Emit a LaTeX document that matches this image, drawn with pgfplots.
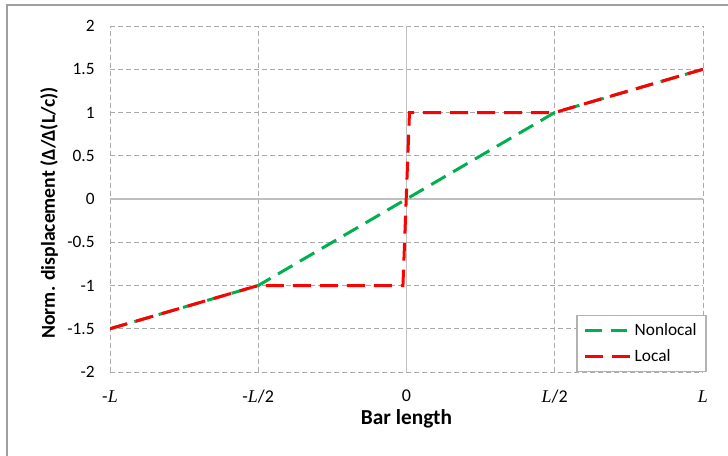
\documentclass[border=0pt]{standalone}
\usepackage{fontspec}
\setmainfont{Carlito}
\newfontfamily\serifit{Liberation Serif}
\usepackage{pgfplots}
\pgfplotsset{compat=1.18}
\definecolor{exgreen}{RGB}{0,176,80}
\definecolor{exred}{RGB}{255,0,0}
\definecolor{gridgray}{RGB}{170,170,170}
\newcommand{\Li}{{\serifit\itshape L}}
\begin{document}
\begin{tikzpicture}[x=0.75pt,y=-0.75pt]
\useasboundingbox (0,0) rectangle (728,456);
\draw[gray!75, line width=1.2pt] (7,470) -- (7,5) -- (740,5);
\begin{axis}[
  at={(82.5pt,-279pt)}, anchor=south west,
  scale only axis, width=444.75pt, height=259.5pt,
  xmin=-1, xmax=1, ymin=-2, ymax=2,
  xtick={-1,-0.5,0,0.5,1},
  xticklabels={-\Li, -\Li/2, 0, \Li/2, \Li},
  ytick={-2,-1.5,...,2},
  yticklabel style={/pgf/number format/assume math mode=true, font=\fontsize{13}{15}\selectfont, xshift=-8pt},
  xticklabel style={font=\fontsize{13.5}{15}\selectfont, inner ysep=1pt, yshift=-12.5pt},
  major tick length=0pt,
  axis line style={draw=none},
  grid=major,
  major grid style={gridgray, line width=0.75pt, dash pattern=on 3.75pt off 2.25pt},
  xlabel={\bfseries Bar length},
  ylabel={\bfseries Norm. displacement (Δ/Δ(L/c))},
  xlabel style={font=\fontsize{16}{18}\selectfont\bfseries, at={(axis description cs:0.5,-0.152)}, anchor=base, inner sep=0pt},
  ylabel style={font=\fontsize{14.8}{17}\selectfont\bfseries, at={(axis description cs:-0.0928,0.46)}, anchor=base},
  legend style={at={(rel axis cs:1.006,0)}, anchor=south east, draw=gray!60, line width=0.8pt, fill=white,
     font=\fontsize{13}{15}\selectfont, row sep=5pt, inner xsep=5pt, inner ysep=4pt, cells={anchor=west}},
  legend image code/.code={\draw[#1] (0pt,0pt) -- (34pt,0pt);},
  legend cell align=left,
]
\draw[gray!50, line width=1.1pt] (axis cs:0,-2) -- (axis cs:0,2);
\draw[gray!50, line width=1.1pt] (axis cs:-1,0) -- (axis cs:1,0);
\addplot[exgreen, line width=2.25pt, dash pattern=on 12.5pt off 6.5pt] coordinates {
(-1,-1.5) (-0.5,-1) (0,0) (0.5,1) (1,1.5)};
\addlegendentry{Nonlocal}
\addplot[exred, line width=2.25pt, dash pattern=on 13.5pt off 6.75pt] coordinates {
(-1,-1.5) (-0.5,-1) (-0.012,-1) (0.01,1) (0.5,1) (1,1.5)};
\addlegendentry{Local}
\end{axis}
\end{tikzpicture}
\end{document}
